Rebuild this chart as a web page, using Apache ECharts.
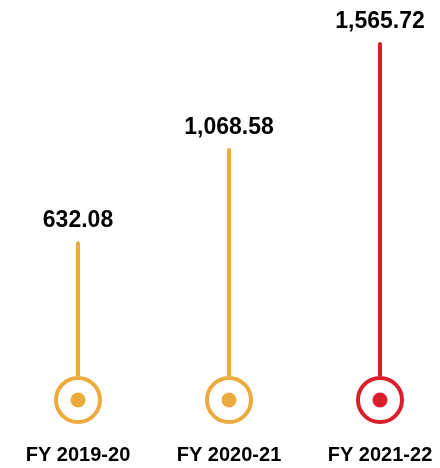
<!DOCTYPE html>
<html><head><meta charset="utf-8">
<script src="https://cdn.jsdelivr.net/npm/echarts@6/dist/echarts.min.js"></script>
<style>html,body{margin:0;padding:0;background:#fff}#c{width:440px;height:468px}</style>
</head><body><div id="c"></div>
<script>
const categories = ["FY 2019-20", "FY 2020-21", "FY 2021-22"];
const values = [632.08, 1068.58, 1565.72];
const colors = ["#EDAB3E", "#EDAB3E", "#DA1F2A"];

const FONT = "'Liberation Sans', Arial, sans-serif";
const chart = echarts.init(document.getElementById('c'));
const fmt = v => v.toLocaleString('en-US', {minimumFractionDigits: 2, maximumFractionDigits: 2});
chart.setOption({
  animation: false,
  grid: {left: 78, right: 60, top: 42, bottom: 92},
  xAxis: {
    type: 'category', data: categories, boundaryGap: false,
    axisLine: {show: false}, axisTick: {show: false},
    axisLabel: {margin: 69, fontSize: 20, fontWeight: 'bold', color: '#000', fontFamily: FONT}
  },
  yAxis: {type: 'value', min: 0, max: 'dataMax', show: false, splitLine: {show: false}},
  series: [
    {
      type: 'bar', barWidth: 4,
      data: values.map((v, i) => ({value: v, itemStyle: {color: colors[i], borderRadius: [2, 2, 0, 0]}})),
      label: {show: true, position: 'top', distance: 9, fontSize: 23, fontWeight: 'bold', color: '#000',
        fontFamily: FONT, formatter: p => fmt(p.value)}
    },
    {
      type: 'scatter', clip: false, z: 5,
      symbol: 'circle', symbolSize: 44, symbolOffset: [0, 24],
      data: values.map((v, i) => ({value: [i, 0], itemStyle: {color: '#fff', opacity: 1, borderColor: colors[i], borderWidth: 4}}))
    },
    {
      type: 'scatter', clip: false, z: 6,
      symbol: 'circle', symbolSize: 15, symbolOffset: [0, 24],
      data: values.map((v, i) => ({value: [i, 0], itemStyle: {color: colors[i], opacity: 1}}))
    }
  ]
});
</script></body></html>
